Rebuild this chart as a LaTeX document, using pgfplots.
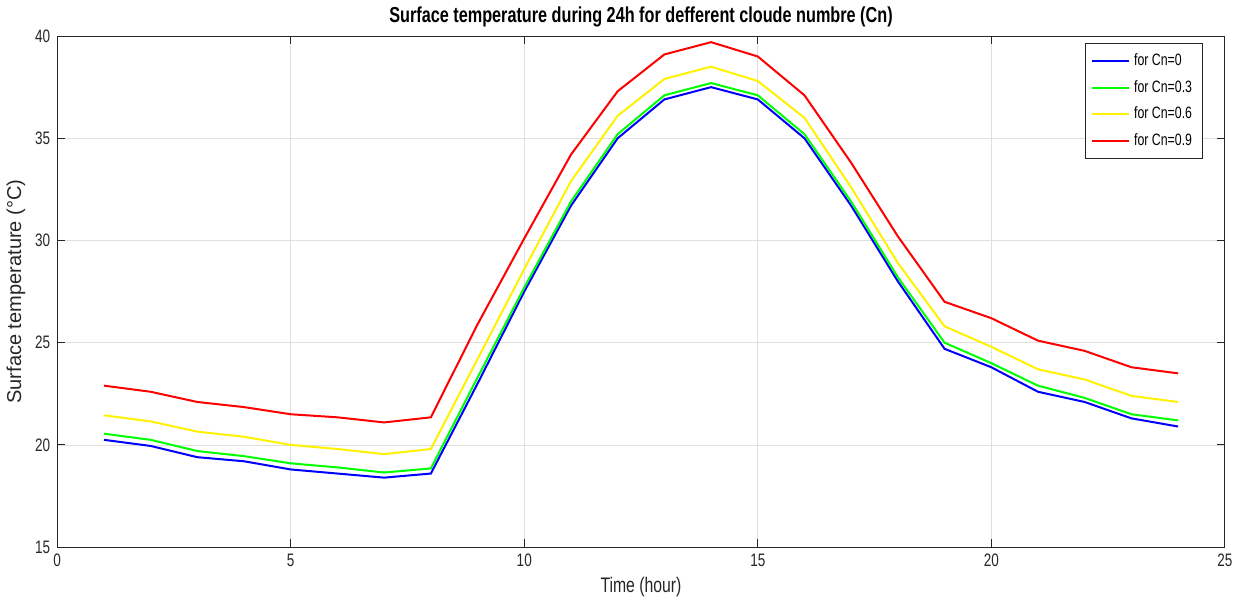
\documentclass[border=0pt]{standalone}
\usepackage{fontspec}
\setmainfont{Liberation Sans}[FakeStretch=0.75]
\newfontfamily\ylfont{Liberation Sans}
\usepackage{pgfplots}
\pgfplotsset{compat=1.18}
\definecolor{mgrid}{RGB}{223,223,223}
\definecolor{mtext}{RGB}{38,38,38}
\begin{document}
\begin{tikzpicture}
\begin{axis}[
    scale only axis,
    width=582.5pt, height=255pt,
    xmin=0, xmax=25, ymin=15, ymax=40,
    xtick={0,5,...,25}, ytick={15,20,...,40},
    grid=major,
    major grid style={mgrid, line width=0.4pt},
    tick align=inside,
    major tick length=4pt,
    axis line style={mtext, line width=0.5pt},
    tick style={mtext, line width=0.5pt},
    ticklabel style={font=\fontsize{9}{10}\selectfont, text=mtext},
    /pgf/number format/assume math mode=true,
    title={\textbf{Surface temperature during 24h for defferent cloude numbre (Cn)}},
    title style={font=\fontsize{10.8}{12}\selectfont, yshift=-5pt},
    xlabel={Time (hour)},
    xlabel style={font=\fontsize{10.5}{12}\selectfont, text=mtext, yshift=2pt},
    ylabel={\ylfont Surface temperature (°C)},
    ylabel style={font=\fontsize{10}{12}\selectfont, text=mtext, yshift=-2pt},
    legend style={at={(0.981,0.986)}, anchor=north east, draw=mtext, line width=0.5pt,
        font=\fontsize{8.2}{10}\selectfont, row sep=1.8pt, inner sep=3pt},
    legend cell align=left,
    legend image code/.code={\draw[#1] (0cm,0cm) -- (0.65cm,0cm);},
    every axis plot/.append style={line width=1pt},
]
\addplot[color=blue] coordinates {
(1,20.25) (2,19.95) (3,19.4) (4,19.2) (5,18.8) (6,18.6) (7,18.4) (8,18.6)
(9,23.0) (10,27.5) (11,31.7) (12,35.0) (13,36.9) (14,37.5) (15,36.9) (16,35.0)
(17,31.7) (18,28.0) (19,24.7) (20,23.8) (21,22.6) (22,22.1) (23,21.3) (24,20.9)};
\addlegendentry{for Cn=0}
\addplot[color=green] coordinates {
(1,20.55) (2,20.25) (3,19.7) (4,19.45) (5,19.1) (6,18.9) (7,18.65) (8,18.85)
(9,23.3) (10,27.7) (11,31.9) (12,35.2) (13,37.1) (14,37.7) (15,37.1) (16,35.2)
(17,31.9) (18,28.2) (19,25.0) (20,24.0) (21,22.9) (22,22.3) (23,21.5) (24,21.2)};
\addlegendentry{for Cn=0.3}
\addplot[color=yellow] coordinates {
(1,21.45) (2,21.15) (3,20.65) (4,20.4) (5,20.0) (6,19.8) (7,19.55) (8,19.8)
(9,24.2) (10,28.6) (11,32.9) (12,36.1) (13,37.9) (14,38.5) (15,37.8) (16,36.0)
(17,32.6) (18,28.9) (19,25.8) (20,24.8) (21,23.7) (22,23.2) (23,22.4) (24,22.1)};
\addlegendentry{for Cn=0.6}
\addplot[color=red] coordinates {
(1,22.9) (2,22.6) (3,22.1) (4,21.85) (5,21.5) (6,21.35) (7,21.1) (8,21.35)
(9,25.9) (10,30.1) (11,34.2) (12,37.3) (13,39.1) (14,39.7) (15,39.0) (16,37.1)
(17,33.8) (18,30.2) (19,27.0) (20,26.2) (21,25.1) (22,24.6) (23,23.8) (24,23.5)};
\addlegendentry{for Cn=0.9}
\end{axis}
\end{tikzpicture}
\end{document}
